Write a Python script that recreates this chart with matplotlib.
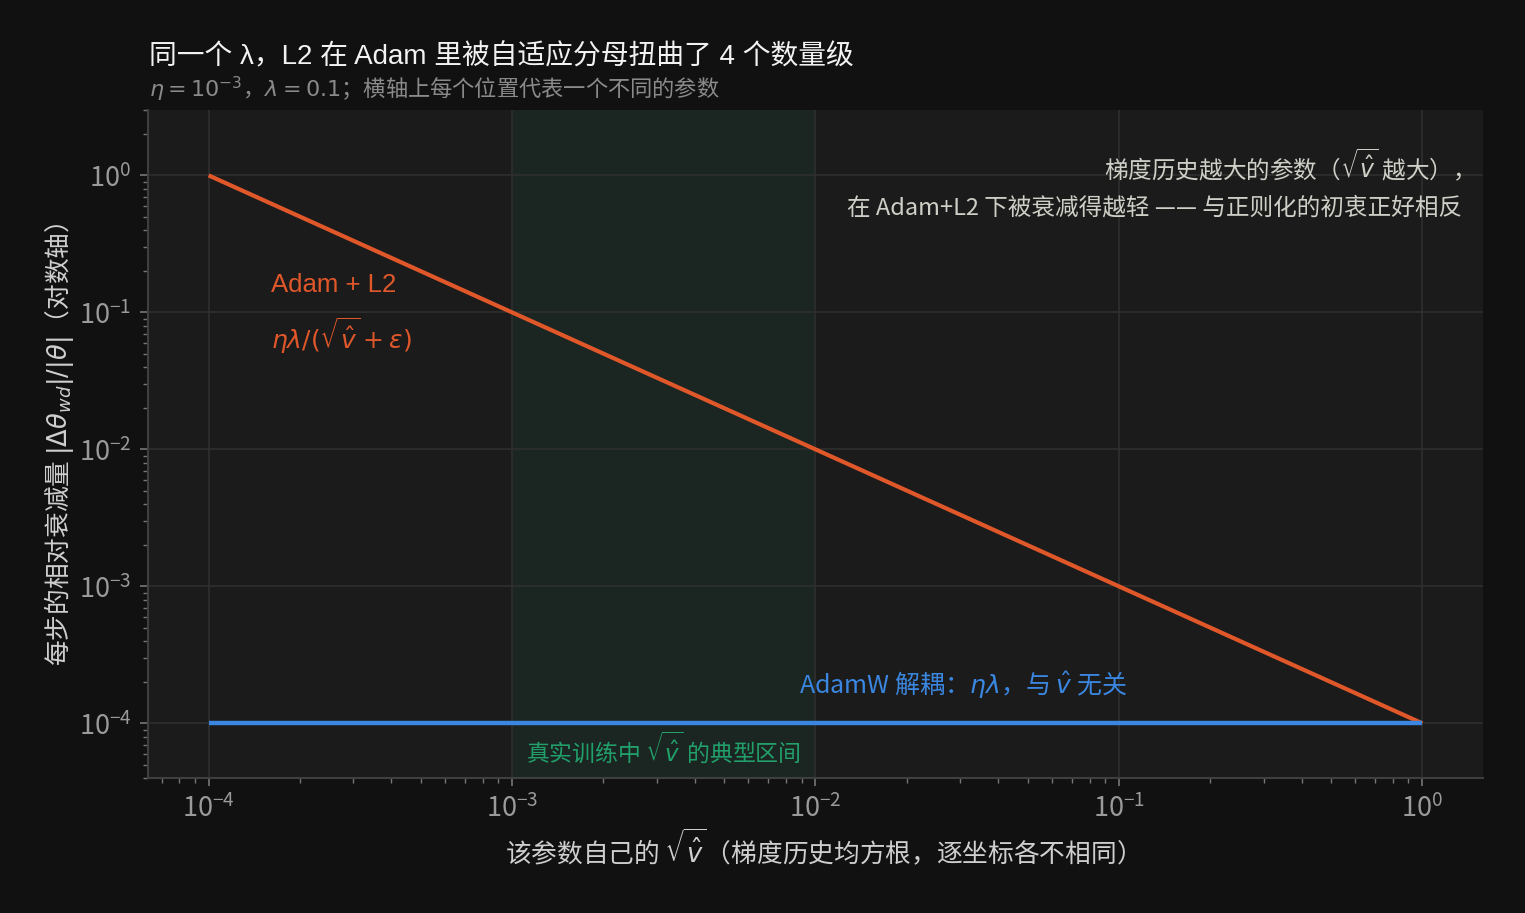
import matplotlib
matplotlib.use("Agg")
import matplotlib.pyplot as plt
import matplotlib.transforms as mtransforms
from matplotlib.ticker import LogLocator, NullFormatter

plt.rcParams['font.family'] = ['Noto Sans CJK SC', 'DejaVu Sans']
plt.rcParams['axes.unicode_minus'] = True
LATIN_FIRST = ['Liberation Sans', 'Noto Sans CJK SC', 'DejaVu Sans']

# ---- data ----
sqrt_v = [1e-4, 1e-3, 1e-2, 1e-1, 1e0]
adam_l2 = [1e0, 1e-1, 1e-2, 1e-3, 1e-4]
adamw = [1e-4, 1e-4, 1e-4, 1e-4, 1e-4]
band = [1e-3, 1e-2]

title = "同一个 λ，L2 在 Adam 里被自适应分母扭曲了 4 个数量级"
subtitle = r"$\eta=10^{-3}$，$\lambda=0.1$；横轴上每个位置代表一个不同的参数"
xlabel = r"该参数自己的 $\sqrt{\hat{v}}$（梯度历史均方根，逐坐标各不相同）"
ylabel = r"每步的相对衰减量 $|\Delta\theta_{wd}|/|\theta|$（对数轴）"

BG = "#111111"
AX_BG = "#1b1b1b"
ORANGE = "#e0572a"
BLUE = "#3a86e0"
GREEN = "#22a06b"

fig = plt.figure(figsize=(15.25, 9.13), dpi=100, facecolor=BG)
ax = fig.add_axes([0.097, 0.148, 0.8755, 0.7315])
ax.set_facecolor(AX_BG)

ax.axvspan(band[0], band[1], color=GREEN, alpha=0.08, lw=0, zorder=0)
ax.plot(sqrt_v, adam_l2, color=ORANGE, lw=3, zorder=3, solid_capstyle='butt')
ax.plot(sqrt_v, adamw, color=BLUE, lw=3.2, zorder=3, solid_capstyle='butt')

ax.set_xscale('log')
ax.set_yscale('log')
ax.set_xlim(10**-4.2, 10**0.2)
ax.set_ylim(4e-5, 3)

ax.xaxis.set_major_locator(LogLocator(base=10, numticks=10))
ax.yaxis.set_major_locator(LogLocator(base=10, numticks=10))
ax.xaxis.set_minor_locator(LogLocator(base=10, subs=range(2, 10), numticks=20))
ax.yaxis.set_minor_locator(LogLocator(base=10, subs=range(2, 10), numticks=20))
ax.xaxis.set_minor_formatter(NullFormatter())
ax.yaxis.set_minor_formatter(NullFormatter())

ax.grid(True, which='major', color='#2f2f2f', lw=1.2, zorder=1)
ax.set_axisbelow(True)
for s in ['top', 'right']:
    ax.spines[s].set_visible(False)
for s in ['left', 'bottom']:
    ax.spines[s].set_color('#3f3f3f')
    ax.spines[s].set_linewidth(1.5)

ax.tick_params(which='major', length=6, width=1.2, color='#777777',
               labelcolor='#9a9a9a', labelsize=19.5, pad=6)
ax.tick_params(which='minor', length=3.5, width=1, color='#777777')

ax.set_xlabel(xlabel, fontsize=18.5, color='#cfcfcf', labelpad=4)
ax.set_ylabel(ylabel, fontsize=18.5, color='#cfcfcf', labelpad=2)

fig.text(0.098, 0.937, title, fontsize=20, color='#f2f2f2', va='center', ha='left',
         family=LATIN_FIRST)
fig.text(0.098, 0.902, subtitle, fontsize=16, color='#8a8a8a', va='center', ha='left')

ax.text(1.6e-4, 0.158, "Adam + L2", color=ORANGE, fontsize=18.5, va='center', ha='left',
        family=LATIN_FIRST)
ax.text(1.6e-4, 0.068, r"$\eta\lambda/(\sqrt{\hat{v}}+\epsilon)$", color=ORANGE,
        fontsize=18, va='center', ha='left')

ax.text(0.984, 0.891,
        "梯度历史越大的参数（$\\sqrt{\\hat{v}}$ 越大），\n在 Adam+L2 下被衰减得越轻 —— 与正则化的初衷正好相反",
        transform=ax.transAxes, color='#cfcfc8', fontsize=17, ha='right',
        va='center', multialignment='right', linespacing=1.75)

ax.text(8.8e-3, 1.9e-4, r"AdamW 解耦：$\eta\lambda$，与 $\hat{v}$ 无关", color=BLUE,
        fontsize=18, va='center', ha='left')

trans = mtransforms.blended_transform_factory(ax.transData, ax.transAxes)
ax.text(3.16e-3, 0.045, r"真实训练中 $\sqrt{\hat{v}}$ 的典型区间", color=GREEN,
        fontsize=16.5, va='center', ha='center', transform=trans)

fig.savefig("out.png", dpi=100, facecolor=BG)
